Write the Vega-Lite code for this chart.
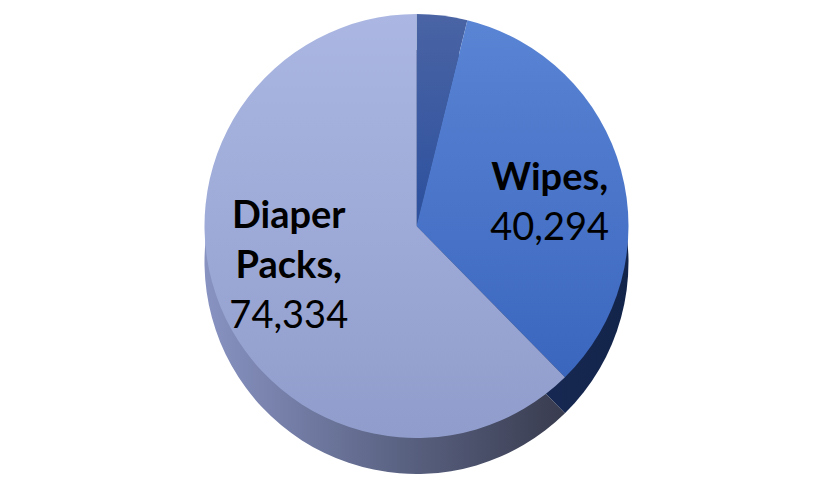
{
  "$schema": "https://vega.github.io/schema/vega-lite/v6.json",
  "width": 833,
  "height": 480,
  "autosize": {"type": "fit", "contains": "padding"},
  "background": "white",
  "view": {"stroke": null},
  "data": {
    "values": [
      {"category": "Other", "title1": "", "title2": "", "value": 4600, "order": 1},
      {"category": "Wipes", "title1": "", "title2": "Wipes,", "value": 40294, "order": 2},
      {"category": "Diaper Packs", "title1": "Diaper", "title2": "Packs,", "value": 74334, "order": 3}
    ]
  },
  "transform": [
    {"stack": "value", "groupby": [], "sort": [{"field": "order", "order": "ascending"}], "as": ["start", "end"]}
  ],
  "layer": [
    {
      "transform": [{"filter": "datum.category === 'Other'"}],
      "mark": {"type": "arc", "outerRadius": 212, "yOffset": 22, "color": {"gradient": "linear", "x1": 0, "y1": 0, "x2": 1, "y2": 0, "stops": [{"offset": 0, "color": "#22386a"}, {"offset": 1, "color": "#1a2c58"}]}},
      "encoding": {"theta": {"field": "start", "type": "quantitative"}, "theta2": {"field": "end"}}
    },
    {
      "transform": [{"filter": "datum.category === 'Wipes'"}],
      "mark": {"type": "arc", "outerRadius": 212, "yOffset": 22, "color": {"gradient": "linear", "x1": 0, "y1": 0, "x2": 1, "y2": 0, "stops": [{"offset": 0, "color": "#1c305e"}, {"offset": 1, "color": "#13244a"}]}},
      "encoding": {"theta": {"field": "start", "type": "quantitative"}, "theta2": {"field": "end"}}
    },
    {
      "transform": [{"filter": "datum.category === 'Diaper Packs'"}],
      "mark": {"type": "arc", "outerRadius": 212, "yOffset": 22, "color": {"gradient": "linear", "x1": 0, "y1": 0, "x2": 1, "y2": 0, "stops": [{"offset": 0, "color": "#8893c2"}, {"offset": 0.55, "color": "#5a6282"}, {"offset": 1, "color": "#393c4f"}]}},
      "encoding": {"theta": {"field": "start", "type": "quantitative"}, "theta2": {"field": "end"}}
    },
    {
      "transform": [{"filter": "datum.category === 'Other'"}],
      "mark": {"type": "arc", "outerRadius": 212, "yOffset": -14, "color": {"gradient": "linear", "x1": 0, "y1": 0, "x2": 0, "y2": 1, "stops": [{"offset": 0, "color": "#4a64a4"}, {"offset": 1, "color": "#2c509e"}]}},
      "encoding": {"theta": {"field": "start", "type": "quantitative"}, "theta2": {"field": "end"}}
    },
    {
      "transform": [{"filter": "datum.category === 'Wipes'"}],
      "mark": {"type": "arc", "outerRadius": 212, "yOffset": -14, "color": {"gradient": "linear", "x1": 0, "y1": 0, "x2": 0, "y2": 1, "stops": [{"offset": 0, "color": "#5a84d4"}, {"offset": 1, "color": "#3a66be"}]}},
      "encoding": {"theta": {"field": "start", "type": "quantitative"}, "theta2": {"field": "end"}}
    },
    {
      "transform": [{"filter": "datum.category === 'Diaper Packs'"}],
      "mark": {"type": "arc", "outerRadius": 212, "yOffset": -14, "color": {"gradient": "linear", "x1": 0, "y1": 0, "x2": 0, "y2": 1, "stops": [{"offset": 0, "color": "#abb7e2"}, {"offset": 1, "color": "#909dcc"}]}},
      "encoding": {"theta": {"field": "start", "type": "quantitative"}, "theta2": {"field": "end"}}
    },
    {
      "mark": {"type": "text", "radius": 138, "yOffset": -14, "dy": -50, "baseline": "alphabetic", "font": "Lato", "fontSize": 38, "fontWeight": "bold", "color": "black"},
      "encoding": {
        "theta": {"field": "value", "type": "quantitative", "stack": true},
        "order": {"field": "order", "type": "quantitative"},
        "text": {"field": "title1"}
      }
    },
    {
      "mark": {"type": "text", "radius": 138, "yOffset": -14, "baseline": "alphabetic", "font": "Lato", "fontSize": 38, "fontWeight": "bold", "color": "black"},
      "encoding": {
        "theta": {"field": "value", "type": "quantitative", "stack": true},
        "order": {"field": "order", "type": "quantitative"},
        "text": {"field": "title2"}
      }
    },
    {
      "mark": {"type": "text", "radius": 138, "yOffset": -14, "dy": 50, "baseline": "alphabetic", "font": "Lato", "fontSize": 38, "color": "black"},
      "encoding": {
        "theta": {"field": "value", "type": "quantitative", "stack": true},
        "order": {"field": "order", "type": "quantitative"},
        "text": {
          "condition": {"test": "datum.category === 'Other'", "value": ""},
          "field": "value",
          "format": ","
        }
      }
    }
  ]
}
